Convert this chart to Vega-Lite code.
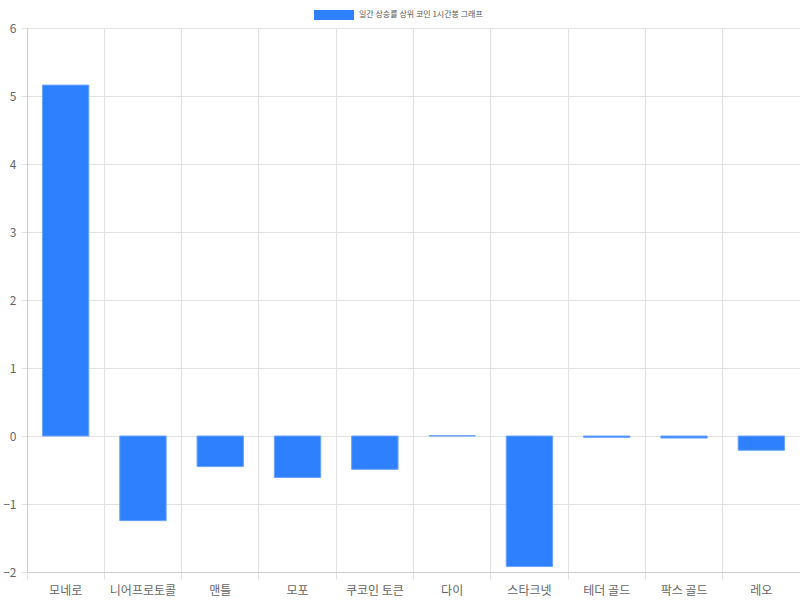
{
  "$schema": "https://vega.github.io/schema/vega-lite/v6.json",
  "width": 800,
  "height": 600,
  "autosize": {"type": "fit", "contains": "padding"},
  "padding": {"left": 2, "top": 22, "right": 0, "bottom": 4},
  "background": "white",
  "config": {
    "font": "Noto Sans CJK KR",
    "view": {"stroke": null}
  },
  "data": {
    "values": [
      {"coin": "모네로", "value": 5.16},
      {"coin": "니어프로토콜", "value": -1.245},
      {"coin": "맨틀", "value": -0.45},
      {"coin": "모포", "value": -0.61},
      {"coin": "쿠코인 토큰", "value": -0.49},
      {"coin": "다이", "value": 0.005},
      {"coin": "스타크넷", "value": -1.92},
      {"coin": "테더 골드", "value": -0.02},
      {"coin": "팍스 골드", "value": -0.03},
      {"coin": "레오", "value": -0.21}
    ]
  },
  "mark": {"type": "bar", "width": {"band": 0.6}, "stroke": "#6aa3ff", "strokeWidth": 1},
  "encoding": {
    "x": {
      "field": "coin",
      "type": "nominal",
      "sort": null,
      "scale": {"paddingInner": 0, "paddingOuter": 0},
      "axis": {
        "title": null,
        "labelAngle": 0,
        "bandPosition": 0,
        "labelColor": "#666",
        "labelFontSize": 12,
        "labelPadding": 6,
        "grid": true,
        "gridColor": "#e2e2e2",
        "tickColor": "#e2e2e2",
        "tickSize": 7,
        "domainColor": "#cccccc"
      }
    },
    "y": {
      "field": "value",
      "type": "quantitative",
      "scale": {"domain": [-2, 6], "nice": false},
      "axis": {
        "title": null,
        "values": [-2, -1, 0, 1, 2, 3, 4, 5, 6],
        "labelColor": "#666",
        "labelFontSize": 12,
        "labelPadding": 5,
        "gridColor": "#e2e2e2",
        "tickColor": "#e2e2e2",
        "tickSize": 6,
        "domainColor": "#cccccc"
      }
    },
    "color": {
      "datum": "일간 상승률 상위 코인 1시간봉 그래프",
      "scale": {"range": ["#2F80FF"]},
      "legend": {
        "orient": "none",
        "legendX": 297,
        "legendY": -23,
        "title": null,
        "symbolType": "M-2,-0.5H2V0.5H-2Z",
        "symbolSize": 400,
        "symbolStrokeWidth": 0,
        "labelFontSize": 8,
        "labelColor": "#555",
        "labelOffset": 15
      }
    }
  }
}
